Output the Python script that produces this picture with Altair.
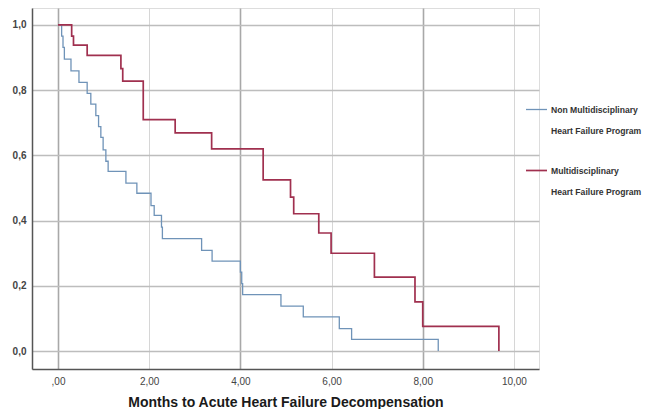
import json
import altair as alt
import pandas as pd

# ---- data (Kaplan-Meier step curves) ----
non_name = "Non Multidisciplinary|Heart Failure Program"
multi_name = "Multidisciplinary|Heart Failure Program"

non_months = [0, 0.08, 0.11, 0.14, 0.285, 0.46, 0.64, 0.72, 0.83, 0.89, 0.94, 0.99,
              1.05, 1.10, 1.49, 1.73, 2.04, 2.11, 2.27, 2.29, 3.15, 3.38, 4.00,
              4.03, 4.05, 4.89, 5.38, 6.17, 6.44, 8.34]
non_surv = [1.0, 0.966, 0.931, 0.895, 0.859, 0.824, 0.790, 0.757, 0.722, 0.688, 0.655,
            0.617, 0.582, 0.551, 0.515, 0.484, 0.446, 0.416, 0.380, 0.345, 0.309,
            0.276, 0.242, 0.207, 0.173, 0.138, 0.105, 0.069, 0.036, 0.0]

multi_months = [0, 0.30, 0.34, 0.64, 1.38, 1.42, 1.87, 2.57, 3.37, 4.50, 5.10, 5.17,
                5.72, 5.99, 6.94, 7.83, 8.00, 9.67]
multi_surv = [1.0, 0.966, 0.938, 0.907, 0.866, 0.828, 0.710, 0.669, 0.620, 0.525,
              0.472, 0.421, 0.362, 0.300, 0.227, 0.151, 0.076, 0.0]

x_ticks = [0, 2, 4, 6, 8, 10]
x_tick_labels = [",00", "2,00", "4,00", "6,00", "8,00", "10,00"]
y_ticks = [0.0, 0.2, 0.4, 0.6, 0.8, 1.0]
y_tick_labels = ["0,0", "0,2", "0,4", "0,6", "0,8", "1,0"]

groups = [non_name, multi_name]
colors = ["#6f93b8", "#a0304f"]
widths = [1.3, 1.7]

df = pd.concat([
    pd.DataFrame({"months": non_months, "survival": non_surv, "group": non_name}),
    pd.DataFrame({"months": multi_months, "survival": multi_surv, "group": multi_name}),
], ignore_index=True)

x_label_expr = json.dumps(x_tick_labels) + "[round(datum.value / 2)]"
y_label_expr = json.dumps(y_tick_labels) + "[round(datum.value * 5)]"
BL = "'\u2800'"  # blank (non-whitespace) spacer line
legend_expr = (f"[split(datum.label, '|')[0], {BL}, "
               "split(datum.label, '|')[1]]")

chart = alt.Chart(df).mark_line(interpolate="step-after").encode(
    x=alt.X(
        "months:Q",
        scale=alt.Scale(domain=[-0.57, 10.55], nice=False, zero=False),
        axis=alt.Axis(
            values=x_ticks, labelExpr=x_label_expr,
            title="Months to Acute Heart Failure Decompensation",
            ticks=False, labelPadding=7, titlePadding=9,
            labelFont="Liberation Sans", labelFontSize=10, labelColor="#444444",
            titleFont="Liberation Sans", titleFontSize=14, titleFontWeight="bold",
            titleColor="#1a1a1a",
            domainColor="#555555", domainWidth=1.5,
            gridColor={"condition": {"test": "datum.value % 4 === 0", "value": "#a8a8a8"},
                       "value": "#d6d6d6"},
            gridWidth={"condition": {"test": "datum.value % 4 === 0", "value": 1.6},
                       "value": 1.0},
        ),
    ),
    y=alt.Y(
        "survival:Q",
        scale=alt.Scale(domain=[-0.055, 1.052], nice=False, zero=False),
        axis=alt.Axis(
            values=y_ticks, labelExpr=y_label_expr, title=None,
            ticks=False, labelPadding=6,
            labelFont="Liberation Sans", labelFontSize=10, labelColor="#444444",
            labelFontWeight="bold",
            domainColor="#555555", domainWidth=1.5,
            gridColor="#bdbdbd", gridWidth=1.3,
        ),
    ),
    color=alt.Color(
        "group:N",
        scale=alt.Scale(domain=groups, range=colors),
        legend=alt.Legend(
            orient="none", legendX=493, legendY=90, title=None,
            symbolType="stroke", symbolSize=441, symbolStrokeWidth=1.5,
            labelExpr=legend_expr, labelLimit=0, labelOffset=3,
            labelFont="Liberation Sans", labelFontSize=8.6,
            labelFontWeight="bold", labelColor="#333333",
            rowPadding=23,
        ),
    ),
    strokeWidth=alt.StrokeWidth(
        "group:N", scale=alt.Scale(domain=groups, range=widths), legend=None
    ),
).properties(
    width=507,
    height=361,
    padding={"left": 24, "top": 0, "right": 104, "bottom": 40},
    autosize=alt.AutoSizeParams(type="none"),
).configure_view(stroke=None).configure(background="white")

chart.save("out.html", embed_options={"renderer": "svg", "actions": False})
